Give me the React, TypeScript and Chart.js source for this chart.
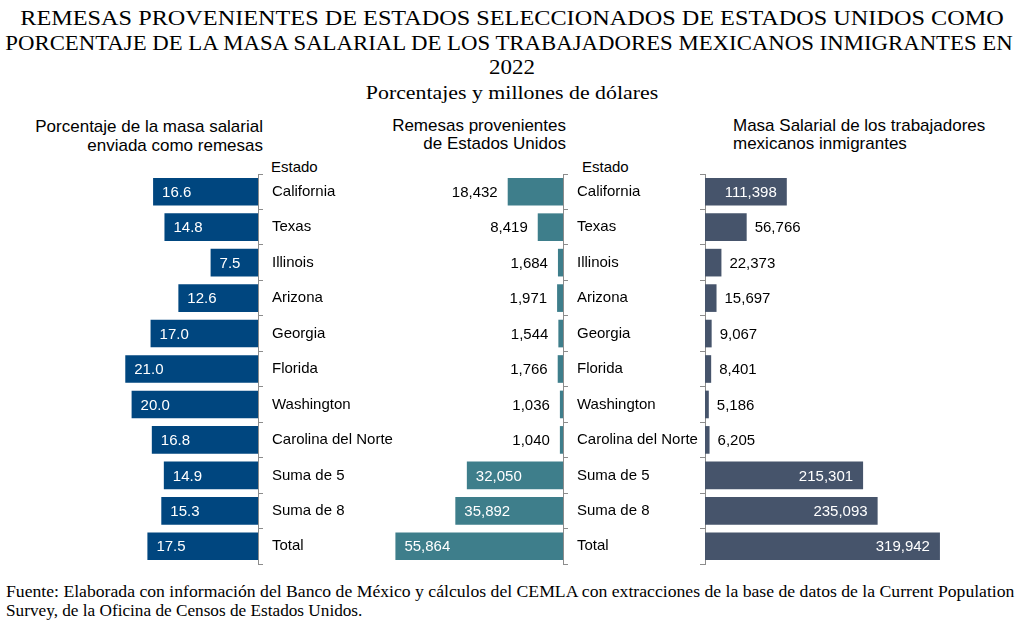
import React, { useEffect, useLayoutEffect, useRef, useState } from 'react';
import { Chart, registerables } from 'chart.js';
Chart.register(...registerables);

// ---------- data ----------
const states = [
  'California', 'Texas', 'Illinois', 'Arizona', 'Georgia', 'Florida',
  'Washington', 'Carolina del Norte', 'Suma de 5', 'Suma de 8', 'Total',
];
const pctSent = [16.6, 14.8, 7.5, 12.6, 17.0, 21.0, 20.0, 16.8, 14.9, 15.3, 17.5];
const remittances = [18432, 8419, 1684, 1971, 1544, 1766, 1036, 1040, 32050, 35892, 55864];
const wageBill = [111398, 56766, 22373, 15697, 9067, 8401, 5186, 6205, 215301, 235093, 319942];

const titleLines = [
  'REMESAS PROVENIENTES DE ESTADOS SELECCIONADOS DE ESTADOS UNIDOS COMO',
  'PORCENTAJE DE LA MASA SALARIAL DE LOS TRABAJADORES MEXICANOS INMIGRANTES EN',
  '2022',
];
const subtitle = 'Porcentajes y millones de dólares';
const footLines = [
  'Fuente: Elaborada con información del Banco de México y cálculos del CEMLA con extracciones de la base de datos de la Current Population',
  'Survey, de la Oficina de Censos de Estados Unidos.',
];

const SANS = '"Liberation Sans", Arial, sans-serif';
const SERIF = '"Liberation Serif", "Times New Roman", serif';
const AXIS = '#8c8c8c';
const C_PCT = '#00467f';
const C_REM = '#3e7e8b';
const C_WAGE = '#46546b';

type Align = 'left' | 'right' | 'center';
function Txt(props: { text: string; x: number; y: number; size: number; family: string; align: Align; fit?: number }) {
  const { text, x, y, size, family, align, fit } = props;
  const ref = useRef<HTMLSpanElement>(null);
  const [sx, setSx] = useState(1);
  useLayoutEffect(() => {
    if (fit && ref.current) {
      const w = ref.current.offsetWidth;
      if (w > 0) setSx(fit / w);
    }
  }, [text, fit, size]);
  const style: React.CSSProperties = {
    position: 'absolute',
    top: y - size / 2,
    whiteSpace: 'nowrap',
    fontFamily: family,
    fontSize: size,
    lineHeight: `${size}px`,
    color: '#000',
  };
  if (align === 'left') {
    style.left = x;
    style.transformOrigin = 'left center';
    style.transform = `scaleX(${sx})`;
  } else if (align === 'right') {
    style.right = 1024 - x;
    style.transformOrigin = 'right center';
    style.transform = `scaleX(${sx})`;
  } else {
    style.left = x;
    style.transformOrigin = 'center center';
    style.transform = `translateX(-50%) scaleX(${sx})`;
  }
  return <span ref={ref} style={style}>{text}</span>;
}

type Mode = 'pct' | 'rem' | 'wage';
function valueLabels(mode: Mode) {
  return {
    id: 'valueLabels',
    afterDatasetsDraw(chart: any) {
      const ctx = chart.ctx as CanvasRenderingContext2D;
      const meta = chart.getDatasetMeta(0);
      const data = chart.data.datasets[0].data as number[];
      ctx.save();
      ctx.font = `15px ${SANS}`;
      ctx.textBaseline = 'middle';
      meta.data.forEach((el: any, i: number) => {
        const v = data[i];
        let txt = v.toLocaleString('en-US');
        let color = '#000';
        let x = el.x;
        let align: CanvasTextAlign = 'left';
        if (mode === 'pct') {
          txt = v.toFixed(1);
          color = '#fff';
          x = el.x + 9;
          align = 'left';
        } else if (mode === 'rem') {
          if (v >= 30000) { color = '#fff'; x = el.x + 9; align = 'left'; }
          else { color = '#000'; x = el.x - 10; align = 'right'; }
        } else {
          if (v >= 100000) { color = '#fff'; x = el.x - 10; align = 'right'; }
          else { color = '#000'; x = el.x + 8; align = 'left'; }
        }
        ctx.fillStyle = color;
        ctx.textAlign = align;
        ctx.fillText(txt, x, el.y + 1);
      });
      ctx.restore();
    },
  };
}

function makeChart(
  canvas: HTMLCanvasElement,
  o: { data: number[]; color: string; reverse: boolean; max: number; pos: 'left' | 'right'; labels: boolean; axisW: number; padL: number; padR: number; mode: Mode },
) {
  return new Chart(canvas, {
    type: 'bar',
    data: {
      labels: states,
      datasets: [{ data: o.data, backgroundColor: o.color, borderWidth: 0, barPercentage: 0.78, categoryPercentage: 1 }],
    },
    options: {
      indexAxis: 'y',
      responsive: false,
      animation: false,
      layout: { padding: { top: 10, bottom: 10, left: o.padL, right: o.padR } },
      plugins: { legend: { display: false }, tooltip: { enabled: false }, title: { display: false } },
      scales: {
        x: { display: false, min: 0, max: o.max, reverse: o.reverse },
        y: {
          position: o.pos,
          offset: true,
          grid: { display: true, drawOnChartArea: false, drawTicks: true, tickLength: 5, color: AXIS, offset: true, lineWidth: 1 },
          border: { display: true, color: AXIS, width: 1 },
          ticks: { display: o.labels, color: '#000', font: { family: 'Liberation Sans', size: 15 }, padding: 9, autoSkip: false },
          afterFit: (s: any) => {
            s.width = o.axisW;
            s.paddingTop = 0;
            s.paddingBottom = 0;
            s.paddingLeft = 0;
            s.paddingRight = 0;
          },
        },
      },
    } as any,
    plugins: [valueLabels(o.mode)],
  });
}

export default function App() {
  const c1 = useRef<HTMLCanvasElement>(null);
  const c2 = useRef<HTMLCanvasElement>(null);
  const c3 = useRef<HTMLCanvasElement>(null);

  useEffect(() => {
    const charts: Chart[] = [];
    if (c1.current) charts.push(makeChart(c1.current, { data: pctSent, color: C_PCT, reverse: true, max: 25, pos: 'right', labels: true, axisW: 142, padL: 100, padR: 0, mode: 'pct' }));
    if (c2.current) charts.push(makeChart(c2.current, { data: remittances, color: C_REM, reverse: true, max: 60000, pos: 'right', labels: true, axisW: 142, padL: 43, padR: 0, mode: 'rem' }));
    if (c3.current) charts.push(makeChart(c3.current, { data: wageBill, color: C_WAGE, reverse: false, max: 350000, pos: 'left', labels: false, axisW: 5, padL: 0, padR: 0, mode: 'wage' }));
    return () => charts.forEach((c) => c.destroy());
  }, []);

  const cv = (left: number, width: number): React.CSSProperties => ({ position: 'absolute', left, top: 164, width, height: 410 });

  return (
    <div style={{ position: 'absolute', left: 0, top: 0, width: 1024, height: 623, background: '#fff', overflow: 'hidden' }}>
      <Txt text={titleLines[0]} x={512} y={18} size={22} family={SERIF} align="center" fit={983} />
      <Txt text={titleLines[1]} x={509} y={43} size={22} family={SERIF} align="center" fit={1007} />
      <Txt text={titleLines[2]} x={512} y={67} size={22} family={SERIF} align="center" fit={46} />
      <Txt text={subtitle} x={512} y={92} size={19} family={SERIF} align="center" fit={292} />

      <Txt text="Porcentaje de la masa salarial" x={263} y={126} size={17} family={SANS} align="right" />
      <Txt text="enviada como remesas" x={263} y={145} size={17} family={SANS} align="right" />
      <Txt text="Remesas provenientes" x={566} y={125} size={17} family={SANS} align="right" />
      <Txt text="de Estados Unidos" x={566} y={143} size={17} family={SANS} align="right" />
      <Txt text="Masa Salarial de los trabajadores" x={733} y={125} size={17} family={SANS} align="left" />
      <Txt text="mexicanos inmigrantes" x={733} y={143} size={17} family={SANS} align="left" />
      <Txt text="Estado" x={271} y={166} size={15} family={SANS} align="left" />
      <Txt text="Estado" x={582} y={166} size={15} family={SANS} align="left" />

      <canvas ref={c1} width={400} height={410} style={cv(0, 400)} />
      <canvas ref={c2} width={365} height={410} style={cv(340, 365)} />
      <canvas ref={c3} width={262} height={410} style={cv(700, 262)} />

      <Txt text={footLines[0]} x={6} y={592} size={16} family={SERIF} align="left" fit={1009} />
      <Txt text={footLines[1]} x={6} y={611} size={16} family={SERIF} align="left" fit={356} />
    </div>
  );
}
